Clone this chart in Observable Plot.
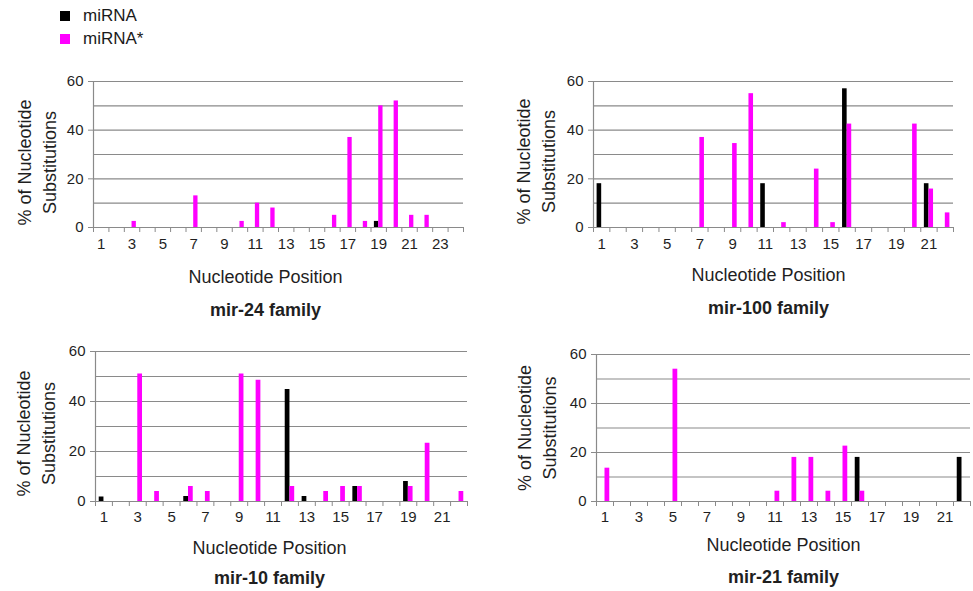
<!DOCTYPE html>
<html>
<head>
<meta charset="utf-8">
<script src="https://cdn.jsdelivr.net/npm/d3@7"></script>
<script src="https://cdn.jsdelivr.net/npm/@observablehq/plot@0.6"></script>
<style>
  html, body { margin: 0; padding: 0; background: #fff; }
  #root { position: relative; width: 973px; height: 591px; overflow: hidden; font-family: "Liberation Sans", Arial, sans-serif; color: #1a1a1a; }
  .panel { position: absolute; }
  .legend { position: absolute; left: 60px; top: 4px; font-size: 17px; line-height: 23px; }
  .legend .item { display: flex; align-items: center; }
  .legend .sw { width: 10px; height: 10px; margin-right: 13px; }
</style>
</head>
<body>
<div id="root">
  <div class="legend">
    <div class="item"><span class="sw" style="background:#000"></span>miRNA</div>
    <div class="item"><span class="sw" style="background:#ff00ff"></span>miRNA*</div>
  </div>
</div>
<script>
// ---- data: [nucleotide position, % of substitutions] ----
const seriesNames = ["miRNA", "miRNA*"];
const seriesColors = ["#000000", "#ff00ff"];

const mir24Title = "mir-24 family";
const mir24Count = 24;
const mir24_miRNA = [[19, 2.5]];
const mir24_star = [[3, 2.5], [7, 13], [10, 2.5], [11, 10], [12, 8], [16, 5], [17, 37], [18, 2.5], [19, 50], [20, 52], [21, 5], [22, 5]];

const mir100Title = "mir-100 family";
const mir100Count = 22;
const mir100_miRNA = [[1, 18], [11, 18], [16, 57], [21, 18]];
const mir100_star = [[7, 37], [9, 34.5], [10, 55], [12, 2], [14, 24], [15, 2], [16, 42.5], [20, 42.5], [21, 15.8], [22, 6]];

const mir10Title = "mir-10 family";
const mir10Count = 22;
const mir10_miRNA = [[1, 1.8], [6, 2], [12, 44.8], [13, 2], [16, 6], [19, 8]];
const mir10_star = [[3, 51], [4, 4], [6, 6], [7, 4], [9, 51], [10, 48.5], [12, 6], [14, 4], [15, 6], [16, 6], [19, 6], [20, 23.3], [22, 4]];

const mir21Title = "mir-21 family";
const mir21Count = 22;
const mir21_miRNA = [[16, 18], [22, 18]];
const mir21_star = [[1, 13.6], [5, 54], [11, 4.2], [12, 18], [13, 18], [14, 4.2], [15, 22.6], [16, 4.2]];

const yTickLabels = [0, 20, 40, 60];
const yGridLines = [10, 20, 30, 40, 50, 60];
const xLabel = "Nucleotide Position";
const yLabel = "% of Nucleotide\nSubstitutions";

const GRAY = "#8a8a8a";
const TEXT = "#1f1f1f";
const BAR_W = 0.28;

function panel(cfg) {
  const black = cfg.miRNA.map(([p, v]) => ({p, v}));
  const star = cfg.star.map(([p, v]) => ({p, v}));
  const boundaries = d3.range(cfg.n + 1).map(i => i + 0.5);
  const labels = d3.range(1, cfg.n + 1).filter(i => i % 2 === 1);
  const chart = Plot.plot({
    width: cfg.width,
    height: cfg.height,
    marginLeft: cfg.mL,
    marginRight: cfg.mR,
    marginTop: cfg.mT,
    marginBottom: cfg.mB,
    style: {fontFamily: '"Liberation Sans", Arial, sans-serif', fontSize: "15px", color: TEXT, background: "transparent", overflow: "visible"},
    x: {domain: [0.5, cfg.n + 0.5], axis: null},
    y: {domain: [0, 60], axis: null},
    marks: [
      Plot.ruleY(yGridLines, {stroke: GRAY, strokeWidth: 1.2}),
      Plot.ruleX([0.5], {stroke: GRAY, strokeWidth: 1.2}),
      Plot.rectY(black, {x1: d => d.p - BAR_W, x2: d => d.p, y: "v", fill: seriesColors[0]}),
      Plot.rectY(star, {x1: d => d.p, x2: d => d.p + BAR_W, y: "v", fill: seriesColors[1]}),
      Plot.ruleY([0], {stroke: GRAY, strokeWidth: 1.2}),
      Plot.axisY({ticks: yTickLabels, tickSize: 5, tickPadding: 5, stroke: GRAY, fill: TEXT, fontSize: 15, label: null}),
      Plot.axisX({ticks: boundaries, tickFormat: () => "", tickSize: 5, stroke: GRAY, label: null}),
      Plot.axisX({ticks: labels, tickSize: 0, tickPadding: cfg.tickPad, fill: TEXT, fontSize: 15, label: null}),
      Plot.text([xLabel], {text: d => d, frameAnchor: "bottom", lineAnchor: "middle", textAnchor: "middle", dx: cfg.labDx, dy: cfg.xlabDy, fontSize: 18, fill: TEXT}),
      Plot.text([cfg.title], {text: d => d, frameAnchor: "bottom", lineAnchor: "middle", textAnchor: "middle", dx: cfg.labDx, dy: cfg.titleDy, fontSize: 18, fontWeight: "bold", fill: TEXT}),
      Plot.text([yLabel], {text: d => d, frameAnchor: "left", textAnchor: "middle", lineAnchor: "middle", rotate: -90, dx: cfg.ylabDx, dy: cfg.ylabDy, fontSize: 18, lineHeight: 1.39, fill: TEXT})
    ]
  });
  const div = document.createElement("div");
  div.className = "panel";
  div.style.left = cfg.left + "px";
  div.style.top = cfg.top + "px";
  div.appendChild(chart);
  document.getElementById("root").appendChild(div);
}

panel({left: 0, top: 60, width: 490, height: 265, mL: 93, mR: 27, mT: 21, mB: 98, n: mir24Count,
  miRNA: mir24_miRNA, star: mir24_star, title: mir24Title, tickPad: 11, labDx: -13, xlabDy: 50, titleDy: 83, ylabDx: -58, ylabDy: 8});
panel({left: 490, top: 60, width: 483, height: 265, mL: 103, mR: 20, mT: 21, mB: 98, n: mir100Count,
  miRNA: mir100_miRNA, star: mir100_star, title: mir100Title, tickPad: 11, labDx: -5, xlabDy: 48, titleDy: 81, ylabDx: -59, ylabDy: 7});
panel({left: 0, top: 330, width: 490, height: 261, mL: 95, mR: 23, mT: 21, mB: 90, n: mir10Count,
  miRNA: mir10_miRNA, star: mir10_star, title: mir10Title, tickPad: 10, labDx: -12, xlabDy: 47, titleDy: 77, ylabDx: -61, ylabDy: 7});
panel({left: 490, top: 330, width: 483, height: 261, mL: 106, mR: 3, mT: 24, mB: 90, n: mir21Count,
  miRNA: mir21_miRNA, star: mir21_star, title: mir21Title, tickPad: 10, labDx: 0, xlabDy: 44, titleDy: 76, ylabDx: -61, ylabDy: 0});
</script>
</body>
</html>
